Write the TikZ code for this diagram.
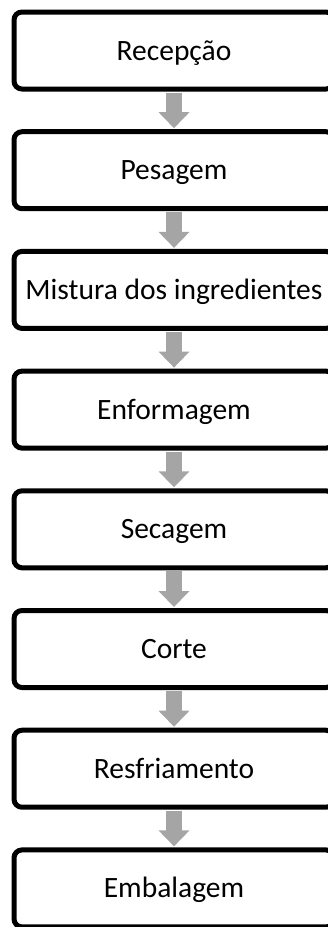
\documentclass[tikz,border=0pt]{standalone}
\usepackage{fontspec}
\setmainfont{Carlito}
\usetikzlibrary{arrows.meta,positioning}
\definecolor{arrowgrey}{HTML}{A5A5A5}

\begin{document}
\begin{tikzpicture}[x=1pt, y=-1pt, node distance=42.7pt, font=\fontsize{29.5}{34}\selectfont,
  stage/.style={draw=black, line width=5pt, rounded corners=8pt, fill=white, minimum width=320pt, minimum height=77pt, inner sep=1pt, outer sep=0pt, text height=19pt, text depth=0pt},
  flow/.style={line width=16pt, arrowgrey, -{Triangle[length=16pt, width=30pt]}, shorten <=3.5pt, shorten >=3.5pt}]
\useasboundingbox (0,0) rectangle (328,927);
\node[stage] (rec) at (174,50.5) {Recepção};
\node[stage, below=of rec] (pes) {Pesagem};
\node[stage, below=of pes] (mis) {Mistura dos ingredientes};
\node[stage, below=of mis] (enf) {Enformagem};
\node[stage, below=of enf] (sec) {Secagem};
\node[stage, below=of sec] (cor) {Corte};
\node[stage, below=of cor] (res) {Resfriamento};
\node[stage, below=of res] (emb) {Embalagem};
\draw[flow] (rec) -- (pes); \draw[flow] (pes) -- (mis); \draw[flow] (mis) -- (enf);
\draw[flow] (enf) -- (sec); \draw[flow] (sec) -- (cor); \draw[flow] (cor) -- (res);
\draw[flow] (res) -- (emb);
\end{tikzpicture}
\end{document}
